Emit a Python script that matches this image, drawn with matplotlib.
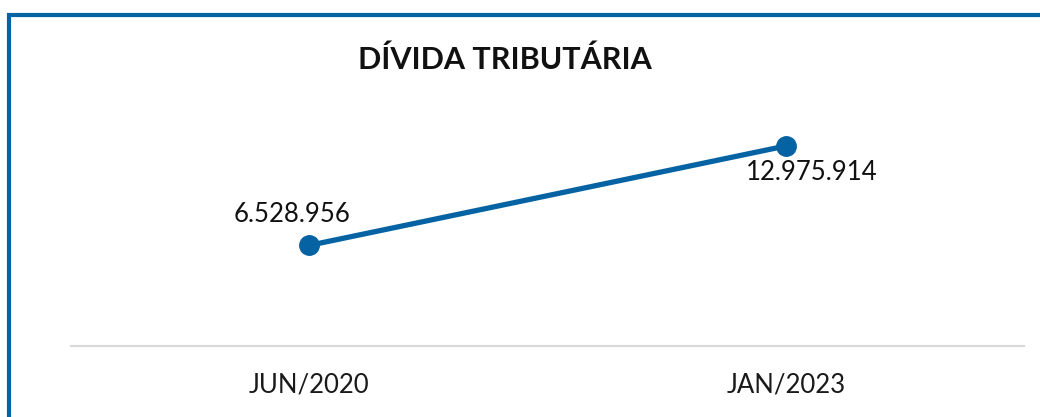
import matplotlib
matplotlib.use("Agg")
import matplotlib.pyplot as plt
from matplotlib.patches import Rectangle

categories = ["JUN/2020", "JAN/2023"]
values = [6528956, 12975914]
labels = ["6.528.956", "12.975.914"]
title = "DÍVIDA TRIBUTÁRIA"

blue = "#0563A3"
plt.rcParams['font.family'] = ['Lato', 'DejaVu Sans']

W, H = 1040, 417
fig = plt.figure(figsize=(W/100, H/100), dpi=100)
ax = fig.add_axes([71/W, 1-346/H, (1024-71)/W, 246/H])
x = list(range(len(categories)))
ax.plot(x, values, color=blue, lw=3.8, marker='o', ms=14, solid_capstyle='round')
ax.set_xlim(-0.5, len(categories)-0.5)
ax.set_ylim(0, 12975914*246/200)
ax.set_xticks(x)
ax.set_xticklabels(categories, fontsize=18.5, color='#1a1a1a')
ax.tick_params(axis='x', length=0, pad=19)
ax.set_yticks([])
for s in ['top', 'right', 'left']:
    ax.spines[s].set_visible(False)
ax.spines['bottom'].set_color('#D9D9D9')
ax.spines['bottom'].set_linewidth(1.5)

offs = [(-17, 31), (26, -26)]
for xi, v, lab, (dx, dy) in zip(x, values, labels, offs):
    ax.annotate(lab, (xi, v), xytext=(dx*0.72, dy*0.72), textcoords='offset points',
                ha='center', va='center', fontsize=18.5, color='#111111')

fig.text(505/W, 1-60/H, title, ha='center', va='center', fontsize=22, fontweight='bold', color='#111111')

fig.patches.append(Rectangle((8.5/W, -0.2), 1.5, 1-14.5/H+0.2, transform=fig.transFigure,
                             fill=False, edgecolor=blue, lw=3, zorder=10))
fig.savefig("out.png", dpi=100)
